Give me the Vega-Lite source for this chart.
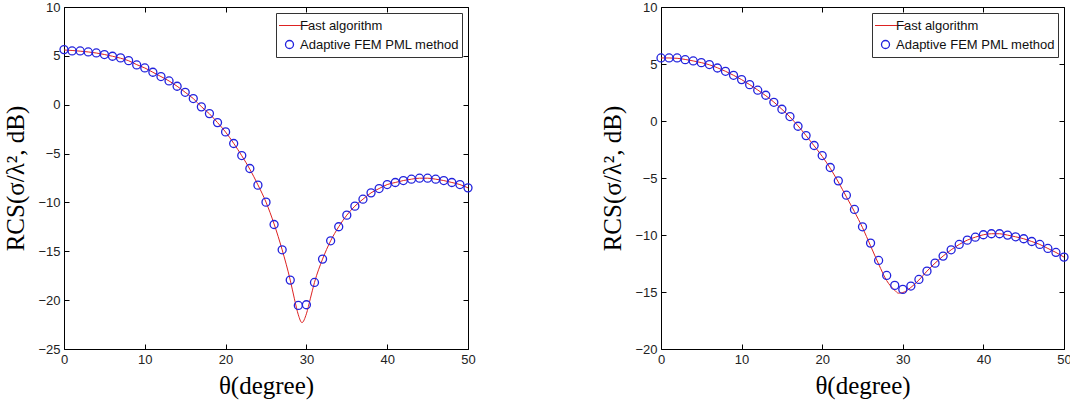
{
  "$schema": "https://vega.github.io/schema/vega-lite/v6.json",
  "padding": {"left": 3, "top": 0, "right": 0, "bottom": 5},
  "bounds": "flush",
  "spacing": 193,
  "config": {
    "view": {"stroke": "#000", "strokeWidth": 1},
    "axis": {"grid": false, "domain": false, "ticks": true, "tickColor": "#000", "tickSize": -5, "labelFont": "Liberation Sans", "labelFontSize": 13, "labelColor": "#222", "labelFlush": false, "labelOverlap": false, "titleFont": "Liberation Serif", "titleFontWeight": "normal", "titleColor": "#000"},
    "axisBottom": {"labelPadding": 9, "titleFontSize": 25, "titlePadding": 7},
    "axisLeft": {"labelPadding": 9, "titleFontSize": 25, "titlePadding": 9},
    "legend": {"orient": "top-right", "offset": 6, "strokeColor": "#333", "fillColor": "#fff", "padding": 3, "labelFont": "Liberation Sans", "labelFontSize": 13, "labelColor": "#111", "labelOffset": 4, "symbolOffset": 4, "clipHeight": 19, "rowPadding": 0, "title": null}
  },
  "datasets": {
    "left_pts": [
      {"theta": 0, "rcs": 5.64}, {"theta": 1, "rcs": 5.5}, {"theta": 2, "rcs": 5.5}, {"theta": 3, "rcs": 5.4}, {"theta": 4, "rcs": 5.3},
      {"theta": 5, "rcs": 5.13}, {"theta": 6, "rcs": 4.96}, {"theta": 7, "rcs": 4.79}, {"theta": 8, "rcs": 4.51}, {"theta": 9, "rcs": 4.07},
      {"theta": 10, "rcs": 3.76}, {"theta": 11, "rcs": 3.32}, {"theta": 12, "rcs": 2.88}, {"theta": 13, "rcs": 2.43}, {"theta": 14, "rcs": 1.89},
      {"theta": 15, "rcs": 1.27}, {"theta": 16, "rcs": 0.63}, {"theta": 17, "rcs": -0.22}, {"theta": 18, "rcs": -0.91}, {"theta": 19, "rcs": -1.83},
      {"theta": 20, "rcs": -2.78}, {"theta": 21, "rcs": -3.97}, {"theta": 22, "rcs": -5.2}, {"theta": 23, "rcs": -6.53}, {"theta": 24, "rcs": -8.23},
      {"theta": 25, "rcs": -9.97}, {"theta": 26, "rcs": -12.26}, {"theta": 27, "rcs": -14.85}, {"theta": 28, "rcs": -17.95}, {"theta": 29, "rcs": -20.54},
      {"theta": 30, "rcs": -20.47}, {"theta": 31, "rcs": -18.19}, {"theta": 32, "rcs": -15.8}, {"theta": 33, "rcs": -13.93}, {"theta": 34, "rcs": -12.49},
      {"theta": 35, "rcs": -11.3}, {"theta": 36, "rcs": -10.38}, {"theta": 37, "rcs": -9.67}, {"theta": 38, "rcs": -9.02}, {"theta": 39, "rcs": -8.58},
      {"theta": 40, "rcs": -8.17}, {"theta": 41, "rcs": -7.96}, {"theta": 42, "rcs": -7.76}, {"theta": 43, "rcs": -7.62}, {"theta": 44, "rcs": -7.52},
      {"theta": 45, "rcs": -7.52}, {"theta": 46, "rcs": -7.62}, {"theta": 47, "rcs": -7.76}, {"theta": 48, "rcs": -7.96}, {"theta": 49, "rcs": -8.17},
      {"theta": 50, "rcs": -8.51}
    ],
    "left_line": [
      {"theta": 0, "rcs": 5.6}, {"theta": 1, "rcs": 5.55}, {"theta": 2, "rcs": 5.48}, {"theta": 3, "rcs": 5.4}, {"theta": 4, "rcs": 5.29},
      {"theta": 5, "rcs": 5.14}, {"theta": 6, "rcs": 4.96}, {"theta": 7, "rcs": 4.76}, {"theta": 8, "rcs": 4.5}, {"theta": 9, "rcs": 4.1},
      {"theta": 10, "rcs": 3.76}, {"theta": 11, "rcs": 3.32}, {"theta": 12, "rcs": 2.88}, {"theta": 13, "rcs": 2.43}, {"theta": 14, "rcs": 1.89},
      {"theta": 15, "rcs": 1.27}, {"theta": 16, "rcs": 0.63}, {"theta": 17, "rcs": -0.2}, {"theta": 18, "rcs": -0.93}, {"theta": 19, "rcs": -1.83},
      {"theta": 20, "rcs": -2.8}, {"theta": 21, "rcs": -3.95}, {"theta": 22, "rcs": -5.22}, {"theta": 23, "rcs": -6.6}, {"theta": 24, "rcs": -8.2},
      {"theta": 25, "rcs": -9.97}, {"theta": 26, "rcs": -12.2}, {"theta": 27, "rcs": -14.85}, {"theta": 28, "rcs": -17.95}, {"theta": 28.5, "rcs": -19.8},
      {"theta": 29, "rcs": -21.5}, {"theta": 29.45, "rcs": -22.3}, {"theta": 30, "rcs": -21.4}, {"theta": 30.5, "rcs": -19.8}, {"theta": 31, "rcs": -18.19},
      {"theta": 32, "rcs": -15.8}, {"theta": 33, "rcs": -13.93}, {"theta": 34, "rcs": -12.49}, {"theta": 35, "rcs": -11.3}, {"theta": 36, "rcs": -10.38},
      {"theta": 37, "rcs": -9.67}, {"theta": 38, "rcs": -9.02}, {"theta": 39, "rcs": -8.58}, {"theta": 40, "rcs": -8.17}, {"theta": 41, "rcs": -7.96},
      {"theta": 42, "rcs": -7.76}, {"theta": 43, "rcs": -7.62}, {"theta": 44, "rcs": -7.52}, {"theta": 45, "rcs": -7.52}, {"theta": 46, "rcs": -7.62},
      {"theta": 47, "rcs": -7.76}, {"theta": 48, "rcs": -7.96}, {"theta": 49, "rcs": -8.17}, {"theta": 50, "rcs": -8.51}
    ],
    "right_pts": [
      {"theta": 0, "rcs": 5.53}, {"theta": 1, "rcs": 5.53}, {"theta": 2, "rcs": 5.53}, {"theta": 3, "rcs": 5.38}, {"theta": 4, "rcs": 5.27},
      {"theta": 5, "rcs": 5.12}, {"theta": 6, "rcs": 4.95}, {"theta": 7, "rcs": 4.65}, {"theta": 8, "rcs": 4.36}, {"theta": 9, "rcs": 4.01},
      {"theta": 10, "rcs": 3.63}, {"theta": 11, "rcs": 3.19}, {"theta": 12, "rcs": 2.7}, {"theta": 13, "rcs": 2.26}, {"theta": 14, "rcs": 1.64},
      {"theta": 15, "rcs": 1.03}, {"theta": 16, "rcs": 0.39}, {"theta": 17, "rcs": -0.46}, {"theta": 18, "rcs": -1.28}, {"theta": 19, "rcs": -2.15},
      {"theta": 20, "rcs": -3.03}, {"theta": 21, "rcs": -4.08}, {"theta": 22, "rcs": -5.25}, {"theta": 23, "rcs": -6.51}, {"theta": 24, "rcs": -7.76},
      {"theta": 25, "rcs": -9.28}, {"theta": 26, "rcs": -10.71}, {"theta": 27, "rcs": -12.23}, {"theta": 28, "rcs": -13.55}, {"theta": 29, "rcs": -14.42},
      {"theta": 30, "rcs": -14.77}, {"theta": 31, "rcs": -14.48}, {"theta": 32, "rcs": -13.9}, {"theta": 33, "rcs": -13.17}, {"theta": 34, "rcs": -12.47},
      {"theta": 35, "rcs": -11.85}, {"theta": 36, "rcs": -11.3}, {"theta": 37, "rcs": -10.83}, {"theta": 38, "rcs": -10.45}, {"theta": 39, "rcs": -10.19},
      {"theta": 40, "rcs": -9.98}, {"theta": 41, "rcs": -9.89}, {"theta": 42, "rcs": -9.89}, {"theta": 43, "rcs": -10.01}, {"theta": 44, "rcs": -10.16},
      {"theta": 45, "rcs": -10.33}, {"theta": 46, "rcs": -10.57}, {"theta": 47, "rcs": -10.83}, {"theta": 48, "rcs": -11.18}, {"theta": 49, "rcs": -11.53},
      {"theta": 50, "rcs": -11.94}
    ],
    "right_line": [
      {"theta": 0, "rcs": 5.53}, {"theta": 1, "rcs": 5.53}, {"theta": 2, "rcs": 5.5}, {"theta": 3, "rcs": 5.4}, {"theta": 4, "rcs": 5.27},
      {"theta": 5, "rcs": 5.12}, {"theta": 6, "rcs": 4.93}, {"theta": 7, "rcs": 4.67}, {"theta": 8, "rcs": 4.36}, {"theta": 9, "rcs": 4.01},
      {"theta": 10, "rcs": 3.63}, {"theta": 11, "rcs": 3.19}, {"theta": 12, "rcs": 2.72}, {"theta": 13, "rcs": 2.22}, {"theta": 14, "rcs": 1.66},
      {"theta": 15, "rcs": 1.03}, {"theta": 16, "rcs": 0.35}, {"theta": 17, "rcs": -0.43}, {"theta": 18, "rcs": -1.28}, {"theta": 19, "rcs": -2.18},
      {"theta": 20, "rcs": -3.1}, {"theta": 21, "rcs": -4.15}, {"theta": 22, "rcs": -5.35}, {"theta": 23, "rcs": -6.65}, {"theta": 24, "rcs": -7.95},
      {"theta": 25, "rcs": -9.35}, {"theta": 26, "rcs": -10.95}, {"theta": 27, "rcs": -12.55}, {"theta": 28, "rcs": -14.0}, {"theta": 29, "rcs": -14.85},
      {"theta": 29.45, "rcs": -15.1}, {"theta": 30, "rcs": -15.05}, {"theta": 31, "rcs": -14.6}, {"theta": 32, "rcs": -13.95}, {"theta": 33, "rcs": -13.17},
      {"theta": 34, "rcs": -12.47}, {"theta": 35, "rcs": -11.85}, {"theta": 36, "rcs": -11.3}, {"theta": 37, "rcs": -10.83}, {"theta": 38, "rcs": -10.45},
      {"theta": 39, "rcs": -10.19}, {"theta": 40, "rcs": -9.98}, {"theta": 41, "rcs": -9.89}, {"theta": 42, "rcs": -9.89}, {"theta": 43, "rcs": -10.01},
      {"theta": 44, "rcs": -10.16}, {"theta": 45, "rcs": -10.33}, {"theta": 46, "rcs": -10.57}, {"theta": 47, "rcs": -10.83}, {"theta": 48, "rcs": -11.18},
      {"theta": 49, "rcs": -11.53}, {"theta": 50, "rcs": -11.94}
    ]
  },
  "resolve": {"scale": {"color": "independent"}, "legend": {"color": "independent"}},
  "hconcat": [
    {
      "width": 404, "height": 342,
      "resolve": {"axis": {"x": "independent", "y": "independent"}},
      "layer": [
        {
          "data": {"name": "left_line"},
          "mark": {"type": "line", "strokeWidth": 1, "interpolate": "monotone"},
          "encoding": {
            "x": {"field": "theta", "type": "quantitative", "scale": {"domain": [0, 50], "nice": false, "zero": false}, "axis": {"orient": "bottom", "values": [0, 10, 20, 30, 40, 50], "title": "θ(degree)"}},
            "y": {"field": "rcs", "type": "quantitative", "scale": {"domain": [-25, 10], "nice": false, "zero": false}, "axis": {"orient": "left", "values": [-25, -20, -15, -10, -5, 0, 5, 10], "title": "RCS(σ/λ², dB)"}},
            "color": {"datum": "Fast algorithm", "type": "nominal", "scale": {"domain": ["Fast algorithm", "Adaptive FEM PML method"], "range": ["#dd2222", "#2222dd"]},
              "legend": {"encode": {"symbols": {"update": {"shape": {"signal": "datum.value === 'Fast algorithm' ? 'stroke' : 'circle'"}, "size": {"signal": "datum.value === 'Fast algorithm' ? 1600 : 64"}, "strokeWidth": {"signal": "datum.value === 'Fast algorithm' ? 1 : 1.3"}, "stroke": {"signal": "datum.value === 'Fast algorithm' ? '#dd2222' : '#2222dd'"}}}}}}
          }
        },
        {
          "data": {"name": "left_pts"},
          "mark": {"type": "point", "shape": "circle", "filled": false, "size": 64, "strokeWidth": 1.3, "opacity": 1},
          "encoding": {
            "x": {"field": "theta", "type": "quantitative", "axis": {"orient": "top", "values": [0, 10, 20, 30, 40, 50], "labels": false, "title": null}},
            "y": {"field": "rcs", "type": "quantitative", "axis": {"orient": "right", "values": [-25, -20, -15, -10, -5, 0, 5, 10], "labels": false, "title": null}},
            "color": {"datum": "Adaptive FEM PML method", "type": "nominal"}
          }
        }
      ]
    },
    {
      "width": 403, "height": 342,
      "resolve": {"axis": {"x": "independent", "y": "independent"}},
      "layer": [
        {
          "data": {"name": "right_line"},
          "mark": {"type": "line", "strokeWidth": 1, "interpolate": "monotone"},
          "encoding": {
            "x": {"field": "theta", "type": "quantitative", "scale": {"domain": [0, 50], "nice": false, "zero": false}, "axis": {"orient": "bottom", "values": [0, 10, 20, 30, 40, 50], "title": "θ(degree)"}},
            "y": {"field": "rcs", "type": "quantitative", "scale": {"domain": [-20, 10], "nice": false, "zero": false}, "axis": {"orient": "left", "values": [-20, -15, -10, -5, 0, 5, 10], "title": "RCS(σ/λ², dB)"}},
            "color": {"datum": "Fast algorithm", "type": "nominal", "scale": {"domain": ["Fast algorithm", "Adaptive FEM PML method"], "range": ["#dd2222", "#2222dd"]},
              "legend": {"encode": {"symbols": {"update": {"shape": {"signal": "datum.value === 'Fast algorithm' ? 'stroke' : 'circle'"}, "size": {"signal": "datum.value === 'Fast algorithm' ? 1600 : 64"}, "strokeWidth": {"signal": "datum.value === 'Fast algorithm' ? 1 : 1.3"}, "stroke": {"signal": "datum.value === 'Fast algorithm' ? '#dd2222' : '#2222dd'"}}}}}}
          }
        },
        {
          "data": {"name": "right_pts"},
          "mark": {"type": "point", "shape": "circle", "filled": false, "size": 64, "strokeWidth": 1.3, "opacity": 1},
          "encoding": {
            "x": {"field": "theta", "type": "quantitative", "axis": {"orient": "top", "values": [0, 10, 20, 30, 40, 50], "labels": false, "title": null}},
            "y": {"field": "rcs", "type": "quantitative", "axis": {"orient": "right", "values": [-20, -15, -10, -5, 0, 5, 10], "labels": false, "title": null}},
            "color": {"datum": "Adaptive FEM PML method", "type": "nominal"}
          }
        }
      ]
    }
  ]
}
